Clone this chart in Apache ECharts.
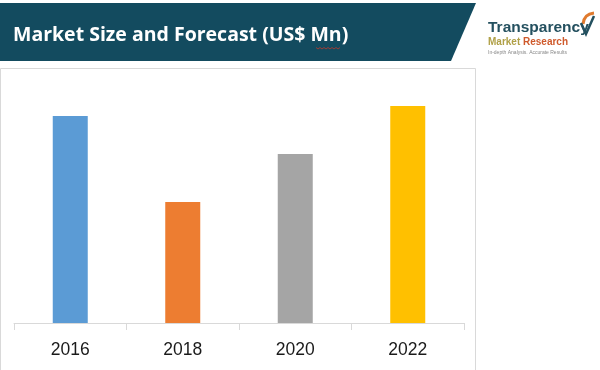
<!DOCTYPE html>
<html>
<head>
<meta charset="utf-8">
<script src="https://cdn.jsdelivr.net/npm/echarts@6/dist/echarts.min.js"></script>
<style>
html,body{margin:0;padding:0;background:#fff;}
#chart{width:600px;height:370px;}
</style>
</head>
<body>
<div id="chart"></div>
<script>
// Data (relative market size; no value axis is shown in the reference)
const categories = ['2016', '2018', '2020', '2022'];
const values = [20.7, 12.1, 16.9, 21.7];
const barColors = ['#5b9bd5', '#ed7d31', '#a5a5a5', '#ffc000'];
const titleText = 'Market Size and Forecast (US$ Mn)';

const chart = echarts.init(document.getElementById('chart'), null, {renderer: 'canvas'});

// red spell-check squiggle under "Mn"
const squiggle = [];
for (let i = 0; i <= 12; i++) squiggle.push([316 + i * 2, 48 + (i % 2 ? 1 : -0.5)]);

chart.setOption({
  animation: false,
  backgroundColor: '#ffffff',
  grid: {left: 14, right: 136, top: 73, bottom: 47, containLabel: false},
  xAxis: {
    type: 'category',
    data: categories,
    boundaryGap: true,
    axisLine: {lineStyle: {color: '#d9d9d9', width: 1}},
    axisTick: {show: true, length: 7, lineStyle: {color: '#d9d9d9'}},
    axisLabel: {
      color: '#1a1a1a',
      fontFamily: 'Liberation Sans, Arial, sans-serif',
      fontSize: 17.5,
      margin: 18
    }
  },
  yAxis: {
    type: 'value',
    min: 0,
    max: 25,
    show: false,
    splitLine: {show: false}
  },
  series: [{
    type: 'bar',
    data: values.map((v, i) => ({value: v, itemStyle: {color: barColors[i]}})),
    barWidth: 35
  }],
  graphic: [
    {
      type: 'rect', silent: true, z: -1,
      shape: {x: 0.5, y: 68.5, width: 475, height: 320},
      style: {fill: 'none', stroke: '#d9d9d9', lineWidth: 1}
    },
    {
      type: 'polygon', silent: true,
      shape: {points: [[0, 3], [476, 3], [451, 61], [0, 61]]},
      style: {fill: '#134b5f'}
    },
    {
      type: 'text', silent: true,
      left: 13, top: 25,
      style: {
        text: titleText,
        fill: '#ffffff',
        font: 'bold 19.5px "Open Sans", sans-serif'
      }
    },
    {
      type: 'polyline', silent: true,
      shape: {points: squiggle},
      style: {stroke: '#c0392b', lineWidth: 0.8, fill: 'none'}
    },
    {
      type: 'text', silent: true,
      left: 488, top: 20,
      style: {
        text: 'Transparency',
        fill: '#24505f',
        font: 'bold 15.5px "Liberation Sans Narrow", "Liberation Sans", sans-serif'
      }
    },
    {
      type: 'text', silent: true,
      left: 488, top: 37,
      style: {
        rich: {
          a: {fill: '#b0a047', font: 'bold 10px "Liberation Sans", sans-serif'},
          b: {fill: '#cf5a2c', font: 'bold 10px "Liberation Sans", sans-serif'}
        },
        text: '{a|Market }{b|Research}'
      }
    },
    {
      type: 'text', silent: true,
      left: 488, top: 50,
      style: {
        text: 'In-depth Analysis. Accurate Results',
        fill: '#888888',
        font: '5px "Liberation Sans", sans-serif'
      }
    },
    {
      type: 'bezierCurve', silent: true,
      shape: {x1: 583, y1: 24, x2: 594, y2: 13, cpx1: 584, cpy1: 14},
      style: {stroke: '#e07a2e', lineWidth: 3, fill: 'none'}
    },
    {
      type: 'polyline', silent: true,
      shape: {points: [[581, 23], [586, 34], [594, 16]]},
      style: {stroke: '#24505f', lineWidth: 2.5, fill: 'none'}
    }
  ]
});
</script>
</body>
</html>
